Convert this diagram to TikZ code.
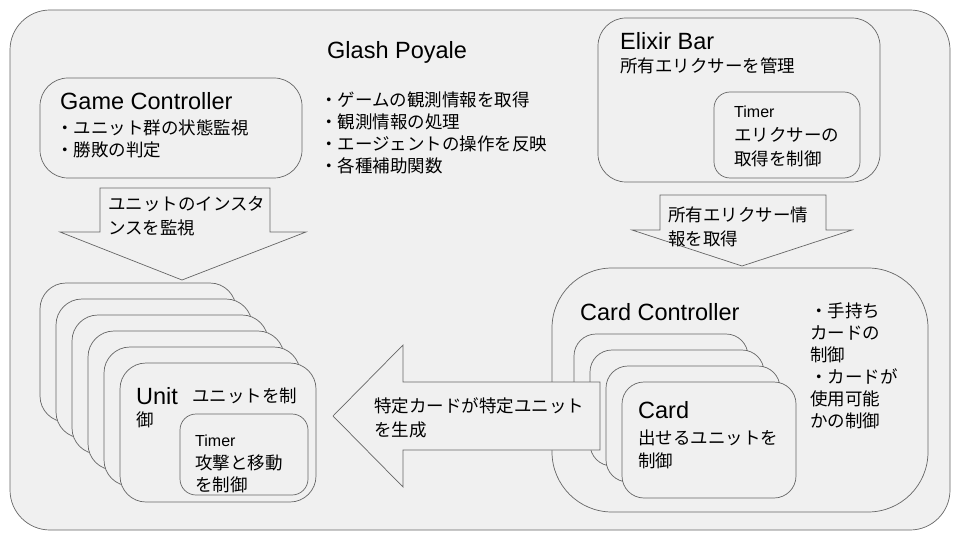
\documentclass[tikz,border=0pt]{standalone}
\usepackage{fontspec}
\setmainfont{Liberation Sans}
\newfontfamily\cjk{Noto Sans CJK JP}
\newcommand{\J}[1]{{\cjk #1}}
\begin{document}
\begin{tikzpicture}[x=1pt,y=-1pt,
  box/.style={draw=gray!80!black,fill=gray!12,line width=0.7pt},
  t/.style={anchor=base west,inner sep=0pt,font=\fontsize{17.5}{17.5}\selectfont},
  tl/.style={anchor=base west,inner sep=0pt,font=\fontsize{16}{16}\selectfont},
  big/.style={anchor=base west,inner sep=0pt,font=\fontsize{23.5}{23.5}\selectfont}]
\fill[white] (0,0) rectangle (960,540);
\useasboundingbox (0,0) rectangle (960,540);
\draw[box,rounded corners=40] (10,10) rectangle (950,530);
\node[big] (title) at (327,59) {Glash Poyale};
% Game controller
\draw[box,rounded corners=28] (40,78) rectangle (302,178);
\node[big] (gc) at (60,110) {Game Controller};
\node[t] (gc1) at (56,135) {\J{・ユニット群の状態監視}};
\node[t] (gc2) at (56,157) {\J{・勝敗の判定}};
% middle bullets
\node[t] (m1) at (320,107) {\J{・ゲームの観測情報を取得}};
\node[t] (m2) at (320,129) {\J{・観測情報の処理}};
\node[t] (m3) at (320,151) {\J{・エージェントの操作を反映}};
\node[t] (m4) at (320,173) {\J{・各種補助関数}};
% Elixir
\draw[box,rounded corners=28] (598,18) rectangle (880,182);
\node[big] (eb) at (620,50) {Elixir Bar};
\node[t] (eb1) at (620,73) {\J{所有エリクサーを管理}};
\draw[box,rounded corners=16] (714,92) rectangle (860,178);
\node[tl] (et) at (734,118) {Timer};
\node[t] (et1) at (734,142) {\J{エリクサーの}};
\node[t] (et2) at (734,165) {\J{取得を制御}};
% arrows
\draw[box,line join=miter] (100,188) -- (270,188) -- (270,232) -- (306,232) -- (182,280) -- (60,232) -- (100,232) -- cycle;
\node[t] (a1) at (108,210) {\J{ユニットのインスタ}};
\node[t] (a2) at (108,234) {\J{ンスを監視}};
\draw[box,line join=miter] (660,195) -- (826,195) -- (826,230) -- (852,230) -- (742,266) -- (632,230) -- (660,230) -- cycle;
\node[t] (b1) at (668,221) {\J{所有エリクサー情}};
\node[t] (b2) at (668,245) {\J{報を取得}};
% Units
\foreach \i in {0,...,5}{
  \draw[box,rounded corners=26] (40+16*\i,283+16*\i) rectangle (236+16*\i,422+16*\i);}
\node[big] (unit) at (136,404) {Unit};
\node[t] (u1) at (192,402) {\J{ユニットを制}};
\node[t] (u2) at (136,426) {\J{御}};
\draw[box,rounded corners=16] (180,414) rectangle (308,495);
\node[tl] (ut) at (195,446) {Timer};
\node[t] (ut1) at (195,469) {\J{攻撃と移動}};
\node[t] (ut2) at (195,491) {\J{を制御}};
% Card controller
\draw[box,rounded corners=60] (552,268) rectangle (928,512);
\node[big] (cc) at (580,320) {Card Controller};
\foreach \s [count=\k] in {・手持ち,カードの,制御,・カードが,使用可能,かの制御}
  \node[t] (cb\k) at (810,317+22*\k-22) {\J{\s}};
\foreach \i in {0,...,3}{
  \draw[box,rounded corners=22] (574+16*\i,334+16*\i) rectangle (748+16*\i,450+16*\i);}
\node[big] (card) at (638,418) {Card};
\node[t] (c1) at (638,444) {\J{出せるユニットを}};
\node[t] (c2) at (638,467) {\J{制御}};
% left arrow
\draw[box,line join=miter] (600,382) -- (403,382) -- (403,345) -- (333,416) -- (403,487) -- (403,450) -- (600,450) -- cycle;
\node[t] (d1) at (374,412) {\J{特定カードが特定ユニット}};
\node[t] (d2) at (374,436) {\J{を生成}};
\end{tikzpicture}
\end{document}
